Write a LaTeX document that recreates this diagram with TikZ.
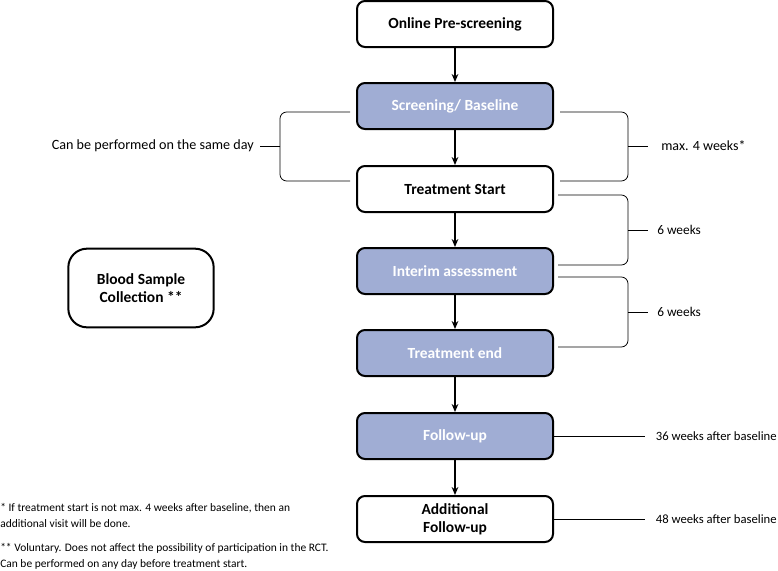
\documentclass[tikz,border=0pt]{standalone}
\usepackage{fontspec}
\setmainfont{Carlito}
\usepackage{tikz}
\usetikzlibrary{arrows.meta}
\definecolor{boxblue}{RGB}{160,173,212}
\tikzset{
  stepbox/.style={draw, line width=1.5pt, rounded corners=6pt, minimum width=147pt, minimum height=34.5pt,
    align=center, font=\bfseries\fontsize{11.6}{13.5}\selectfont},
  bluebox/.style={stepbox, fill=boxblue, text=white},
  flow/.style={-{Stealth[length=6pt,width=5pt]}, line width=1pt},
  brace/.style={line width=0.6pt, rounded corners=5pt},
  note/.style={font=\fontsize{10}{12}\selectfont, inner sep=0.75pt},
  foot/.style={font=\fontsize{8.6}{12}\selectfont, inner sep=0pt, align=left},
}

\begin{document}
\begin{tikzpicture}[x=0.75pt,y=0.75pt,yscale=-1,xscale=1]
        \useasboundingbox (0,0) rectangle (778,571);

        % main flow
        \node[stepbox] (pre) at (455,24) {Online Pre-screening};
        \node[bluebox] (scr) at (455,106) {Screening/ Baseline};
        \node[stepbox] (start) at (455,189) {Treatment Start};
        \node[bluebox] (interim) at (455,271) {Interim assessment};
        \node[bluebox] (tend) at (455,353) {Treatment end};
        \node[bluebox] (fu) at (455,436) {Follow-up};
        \node[stepbox] (addfu) at (455,519) {Additional\\Follow-up};
        \node[stepbox, minimum width=109pt, minimum height=59pt, rounded corners=14pt] (blood) at (141,288) {Blood Sample\\Collection **};

        \draw[flow] (pre) -- (scr);
        \draw[flow] (scr) -- (start);
        \draw[flow] (start) -- (interim);
        \draw[flow] (interim) -- (tend);
        \draw[flow] (tend) -- (fu);
        \draw[flow] (fu) -- (addfu);

        % brackets
        \draw[brace] (350,112) -- (280,112) -- (280,181) -- (350,181);
        \draw[brace] (280,146) -- (260,146);
        \draw[brace] (560,112) -- (628,112) -- (628,181) -- (560,181);
        \draw[brace] (628,146) -- (648,146);
        \draw[brace] (558,195) -- (628,195) -- (628,265) -- (558,265);
        \draw[brace] (628,230) -- (648,230);
        \draw[brace] (558,277) -- (628,277) -- (628,347) -- (558,347);
        \draw[brace] (628,312) -- (648,312);

        \draw (255,146) node [note, anchor=east, font=\fontsize{10.6}{12}\selectfont] (samelab) {Can be performed on the same day};
        \draw (660,146) node [note, anchor=west, font=\fontsize{10.5}{12}\selectfont] (maxlab) {max. 4 weeks*};
        \draw (656,230) node [note, anchor=west] (wk1lab) {6 weeks};
        \draw (656,312) node [note, anchor=west] (wk2lab) {6 weeks};

        % follow-up times
        \node[note, anchor=west, inner xsep=8pt, font=\fontsize{9.5}{12}\selectfont] (fulab) at (645,436) {36 weeks after baseline};
        \node[note, anchor=west, inner xsep=8pt, font=\fontsize{9.5}{12}\selectfont] (addlab) at (645,519) {48 weeks after baseline};
        \draw[line width=0.6pt] (fu) -- (fulab);
        \draw[line width=0.6pt] (addfu) -- (addlab);

        % footnotes
        \node[foot, anchor=north west] (fn1) at (0,503) {* If treatment start is not max. 4 weeks after baseline, then an\\additional visit will be done.};
        \node[foot, anchor=north west] (fn2) at (0,543) {** Voluntary. Does not affect the possibility of participation in the RCT.\\Can be performed on any day before treatment start.};
\end{tikzpicture}
\end{document}
